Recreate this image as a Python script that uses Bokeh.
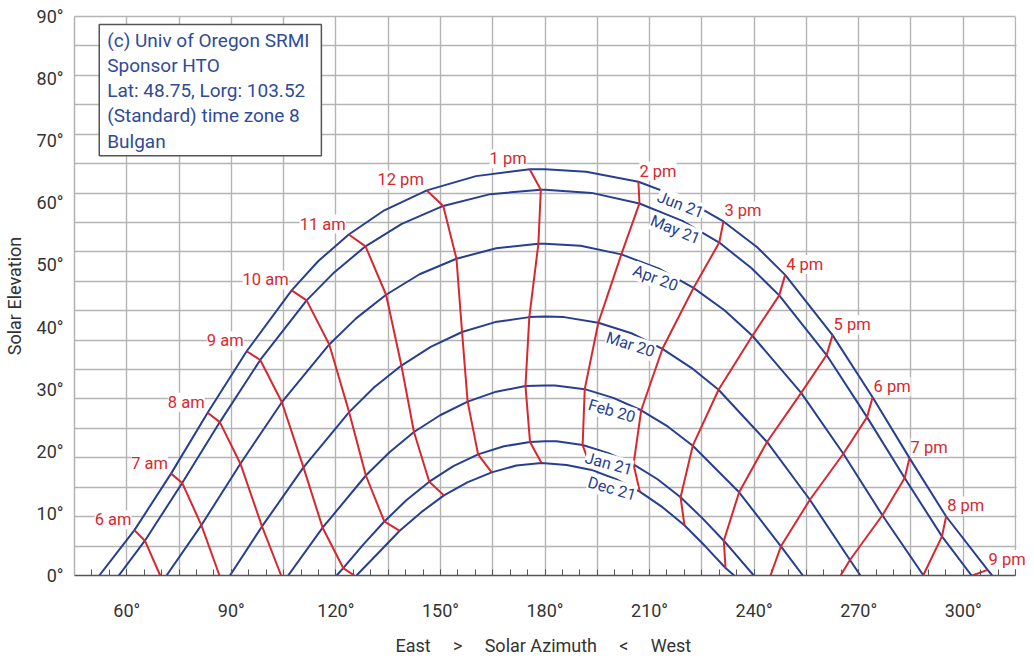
from bokeh.plotting import figure
from bokeh.models import (Range1d, FixedTicker, Label, LabelSet, ColumnDataSource,
                          PrintfTickFormatter, LinearAxis, BoxAnnotation)
from bokeh.core.properties import value
from bokeh.embed import file_html
from bokeh.resources import INLINE

# ---------------- data ----------------
date_names = ["Jun 21", "May 21", "Apr 20", "Mar 20", "Feb 20", "Jan 21", "Dec 21"]

jun21_az = [52.1, 62.2, 72.7, 83.2, 94.4, 107.3, 114.9, 123.7, 133.9, 146.1, 160.2, 175.6, 180.0,
            191.8, 206.8, 220.0, 231.2, 240.8, 248.9, 262.5, 274.0, 284.6, 295.1, 307.0, 308.3]
jun21_el = [0.0, 7.3, 16.4, 26.2, 36.1, 45.9, 50.6, 54.9, 58.8, 62.0, 64.3, 65.4, 65.4,
            65.0, 63.4, 60.6, 57.0, 52.9, 48.4, 38.7, 28.7, 18.9, 9.5, 0.9, 0.0]

may21_az = [57.7, 65.2, 75.9, 86.7, 98.3, 111.6, 119.5, 128.5, 138.9, 150.8, 164.3, 178.8, 180.0,
            193.4, 207.1, 219.4, 230.0, 239.2, 247.2, 260.8, 272.4, 283.2, 293.9, 302.4]
may21_el = [0.0, 5.6, 14.9, 24.7, 34.7, 44.3, 48.8, 53.0, 56.6, 59.5, 61.4, 62.1, 62.1,
            61.6, 59.9, 57.1, 53.6, 49.5, 45.1, 35.5, 25.5, 15.7, 6.3, 0.0]

apr20_az = [71.4, 81.4, 92.6, 104.5, 118.1, 125.8, 134.4, 144.0, 154.6, 166.0, 178.1, 180.0,
            190.2, 201.9, 212.7, 222.6, 231.5, 239.5, 253.5, 265.6, 276.8, 288.6]
apr20_el = [0.0, 8.1, 18.0, 27.9, 37.2, 41.4, 45.2, 48.5, 51.0, 52.7, 53.4, 53.4,
            53.1, 51.7, 49.4, 46.3, 42.7, 38.6, 29.4, 19.6, 9.7, 0.0]

mar20_az = [89.6, 98.8, 110.7, 123.8, 131.0, 138.8, 147.2, 156.2, 165.7, 175.5, 180.0,
            185.5, 195.3, 204.8, 213.7, 222.1, 229.8, 243.7, 256.0, 267.5, 270.5]
mar20_el = [0.0, 7.9, 17.4, 26.3, 30.3, 33.8, 36.8, 39.2, 40.8, 41.6, 41.7,
            41.6, 40.7, 39.0, 36.5, 33.4, 29.9, 21.5, 12.2, 2.5, 0.0]

feb20_az = [106.3, 116.2, 128.6, 135.3, 142.4, 149.9, 157.8, 166.0, 174.4, 180.0,
            182.9, 191.4, 199.6, 207.6, 215.2, 222.4, 235.7, 247.7, 254.0]
feb20_el = [0.0, 7.7, 16.1, 19.8, 23.1, 25.8, 28.0, 29.6, 30.5, 30.6,
            30.6, 30.0, 28.6, 26.6, 24.0, 20.9, 13.4, 4.7, 0.0]

jan21_az = [120.2, 122.1, 127.9, 133.9, 140.2, 146.8, 153.7, 160.8, 168.2, 175.7, 180.0,
            183.3, 190.8, 198.2, 205.4, 212.3, 218.9, 225.2, 231.3, 239.9]
jan21_el = [0.0, 1.2, 5.0, 8.7, 12.1, 15.1, 17.6, 19.5, 20.8, 21.5, 21.6,
            21.6, 21.0, 19.7, 17.9, 15.5, 12.6, 9.2, 5.6, 0.0]

dec21_az = [125.9, 132.3, 138.3, 144.5, 151.0, 157.7, 164.7, 171.8, 179.0,
            186.2, 193.4, 200.4, 207.2, 213.7, 220.0, 226.0, 231.8, 234.3]
dec21_el = [0.0, 3.7, 7.2, 10.2, 12.9, 15.0, 16.6, 17.7, 18.1,
            17.8, 17.0, 15.5, 13.5, 11.0, 8.1, 4.7, 1.2, 0.0]

hour_names = ["6 am", "7 am", "8 am", "9 am", "10 am", "11 am", "12 pm", "1 pm",
              "2 pm", "3 pm", "4 pm", "5 pm", "6 pm", "7 pm", "8 pm", "9 pm"]

h06_az = [62.2, 65.2, 69.6]
h06_el = [7.3, 5.6, 0.0]
h07_az = [72.7, 75.9, 81.4, 86.6]
h07_el = [16.4, 14.9, 8.1, 0.0]
h08_az = [83.2, 86.7, 92.6, 98.8, 104.3]
h08_el = [26.2, 24.7, 18.0, 7.9, 0.0]
h09_az = [94.4, 98.3, 104.5, 110.7, 116.2, 122.1, 125.3]
h09_el = [36.1, 34.7, 27.9, 17.4, 7.7, 1.2, 0.0]
h10_az = [107.3, 111.6, 118.1, 123.8, 128.6, 133.9, 138.3]
h10_el = [45.9, 44.3, 37.2, 26.3, 16.1, 8.7, 7.2]
h11_az = [123.7, 128.5, 134.4, 138.8, 142.4, 146.8, 151.0]
h11_el = [54.9, 53.0, 45.2, 33.8, 23.1, 15.1, 12.9]
h12_az = [146.1, 150.8, 154.6, 156.2, 157.8, 160.8, 164.7]
h12_el = [62.0, 59.5, 51.0, 39.2, 28.0, 19.5, 16.6]
h13_az = [175.6, 178.8, 178.1, 175.5, 174.4, 175.7, 179.0]
h13_el = [65.4, 62.1, 53.4, 41.6, 30.5, 21.5, 18.1]
h14_az = [206.8, 207.1, 201.9, 195.3, 191.4, 190.8, 193.4]
h14_el = [63.4, 59.9, 51.7, 40.7, 30.0, 21.0, 17.0]
h15_az = [231.2, 230.0, 222.6, 213.7, 207.6, 205.4, 207.2]
h15_el = [57.0, 53.6, 46.3, 36.5, 26.6, 17.9, 13.5]
h16_az = [248.9, 247.2, 239.5, 229.8, 222.4, 218.9, 220.0]
h16_el = [48.4, 45.1, 38.6, 29.9, 20.9, 12.6, 8.1]
h17_az = [262.5, 260.8, 253.5, 243.7, 235.7, 231.3, 231.8]
h17_el = [38.7, 35.5, 29.4, 21.5, 13.4, 5.6, 1.2]
h18_az = [274.0, 272.4, 265.6, 256.0, 247.7, 244.7]
h18_el = [28.7, 25.5, 19.6, 12.2, 4.7, 0.0]
h19_az = [284.6, 283.2, 276.8, 267.5, 264.8]
h19_el = [18.9, 15.7, 9.7, 2.5, 0.0]
h20_az = [295.1, 293.9, 288.5]
h20_el = [9.5, 6.3, 0.0]
h21_az = [307.0, 302.6]
h21_el = [0.9, 0.0]

x_tick_values = [60, 90, 120, 150, 180, 210, 240, 270, 300]
y_tick_values = [0, 10, 20, 30, 40, 50, 60, 70, 80, 90]

info_lines = ["(c) Univ of Oregon SRMI", "Sponsor HTO", "Lat: 48.75, Lorg: 103.52",
              "(Standard) time zone 8", "Bulgan"]

# placement of the date captions along their curves (annotation layout)
date_label_az = [218.9, 217.4, 211.7, 204.5, 199.2, 198.3, 199.2]
date_label_el = [59.7, 55.7, 47.9, 37.2, 26.5, 18.0, 14.0]
date_label_angle = [-21, -22, -21, -18, -16, -15, -16]

# ---------------- styling ----------------
BLUE = "#273f91"
RED = "#d7282f"
TXT = "#333333"
GRID = "#b4b4b4"
FONT = "Roboto"
AZ_MIN, AZ_MAX = 45, 315          # chart box
AZ_VIEW_MAX = 320.45              # a little room on the right for the last caption

p = figure(width=1034, height=658, x_range=Range1d(AZ_MIN, AZ_VIEW_MAX), y_range=Range1d(0, 90),
           output_backend="svg", toolbar_location=None,
           min_border_left=74, min_border_right=0, min_border_top=16, min_border_bottom=80)
p.background_fill_color = "white"
p.border_fill_color = "white"
p.outline_line_color = None

p.xgrid.ticker = FixedTicker(ticks=list(range(AZ_MIN, AZ_MAX + 1, 15)))
p.ygrid.ticker = FixedTicker(ticks=[i * 90 / 19 for i in range(20)])
for g in (p.xgrid, p.ygrid):
    g.grid_line_color = GRID
    g.grid_line_width = 1.4

xa = p.xaxis[0]
xa.bounds = (AZ_MIN, AZ_MAX)
xa.ticker = FixedTicker(ticks=x_tick_values, minor_ticks=list(range(AZ_MIN, AZ_MAX + 1, 5)))
xa.formatter = PrintfTickFormatter(format="%d°")
xa.major_tick_in = 6
xa.major_tick_out = 0
xa.minor_tick_in = 6
xa.minor_tick_out = 0
xa.major_tick_line_color = "#555555"
xa.minor_tick_line_color = "#555555"
xa.axis_line_color = "#555555"
xa.axis_line_width = 1.5
xa.major_label_standoff = 24
xa.major_label_text_font = FONT
xa.major_label_text_font_size = "18px"
xa.major_label_text_color = TXT
sp = "\u00a0" * 5
# trailing blanks keep the title centred under the chart box rather than the wider frame
xa.axis_label = "East" + sp + ">" + sp + "Solar Azimuth" + sp + "<" + sp + "West" + "\u00a0" * 5
xa.axis_label_text_font = FONT
xa.axis_label_text_font_size = "18px"
xa.axis_label_text_font_style = "normal"
xa.axis_label_text_color = TXT
xa.axis_label_standoff = 11

# top border of the chart box
top = LinearAxis(bounds=(AZ_MIN, AZ_MAX), ticker=FixedTicker(ticks=[]),
                 axis_line_color=GRID, axis_line_width=1.5,
                 major_tick_line_color=None, minor_tick_line_color=None)
p.add_layout(top, "above")

ya = p.yaxis[0]
ya.ticker = FixedTicker(ticks=y_tick_values)
ya.formatter = PrintfTickFormatter(format="%d°")
ya.major_tick_line_color = None
ya.minor_tick_line_color = None
ya.axis_line_color = GRID
ya.axis_line_width = 1.5
ya.major_label_standoff = 5
ya.major_label_text_font = FONT
ya.major_label_text_font_size = "18px"
ya.major_label_text_color = TXT
ya.axis_label = "Solar Elevation"
ya.axis_label_text_font = FONT
ya.axis_label_text_font_size = "18px"
ya.axis_label_text_font_style = "normal"
ya.axis_label_text_color = TXT
ya.axis_label_standoff = 9

# blank out the spare strip right of the chart box
p.add_layout(BoxAnnotation(left=AZ_MAX + 0.3, fill_color="white", fill_alpha=1.0,
                           line_color=None))

# ---------------- date curves ----------------
date_curves = [(jun21_az, jun21_el), (may21_az, may21_el), (apr20_az, apr20_el),
               (mar20_az, mar20_el), (feb20_az, feb20_el), (jan21_az, jan21_el),
               (dec21_az, dec21_el)]
for az, el in date_curves:
    p.line(az, el, line_color=BLUE, line_width=2)

# ---------------- hour lines ----------------
hour_lines = [(h06_az, h06_el), (h07_az, h07_el), (h08_az, h08_el), (h09_az, h09_el),
              (h10_az, h10_el), (h11_az, h11_el), (h12_az, h12_el), (h13_az, h13_el),
              (h14_az, h14_el), (h15_az, h15_el), (h16_az, h16_el), (h17_az, h17_el),
              (h18_az, h18_el), (h19_az, h19_el), (h20_az, h20_el), (h21_az, h21_el)]
for az, el in hour_lines:
    p.line(az, el, line_color=RED, line_width=2)

# hour captions at the June end of each hour line (east of south: text to the left)
for name, (az, el) in zip(hour_names, hour_lines):
    east = az[0] < 180
    p.add_layout(Label(x=az[0], y=el[0], text=name,
                       text_align="right" if east else "left",
                       text_baseline="bottom", x_offset=-3 if east else 1, y_offset=1,
                       text_font=FONT, text_font_size="16.5px", text_color=RED,
                       background_fill_color="white"))

# date captions
src_d = ColumnDataSource(dict(x=date_label_az, y=date_label_el, t=date_names, a=date_label_angle))
p.add_layout(LabelSet(x="x", y="y", text="t", angle="a", angle_units="deg", source=src_d,
                      text_align="center", text_baseline="middle",
                      text_font=value(FONT), text_font_size=value("16px"), text_color=BLUE,
                      background_fill_color="white"))

# info box
p.add_layout(Label(x=52.1, y=88.7, text="\n".join(info_lines), text_align="left",
                   text_baseline="top", text_font=FONT, text_font_size="19px",
                   text_color="#2f4b9a", text_line_height=1.1,
                   background_fill_color="white", border_line_color="#555555",
                   border_line_width=1.5,
                   padding=dict(left=8, right=12, top=4, bottom=3)))

open("out.html", "w").write(file_html(p, INLINE))
